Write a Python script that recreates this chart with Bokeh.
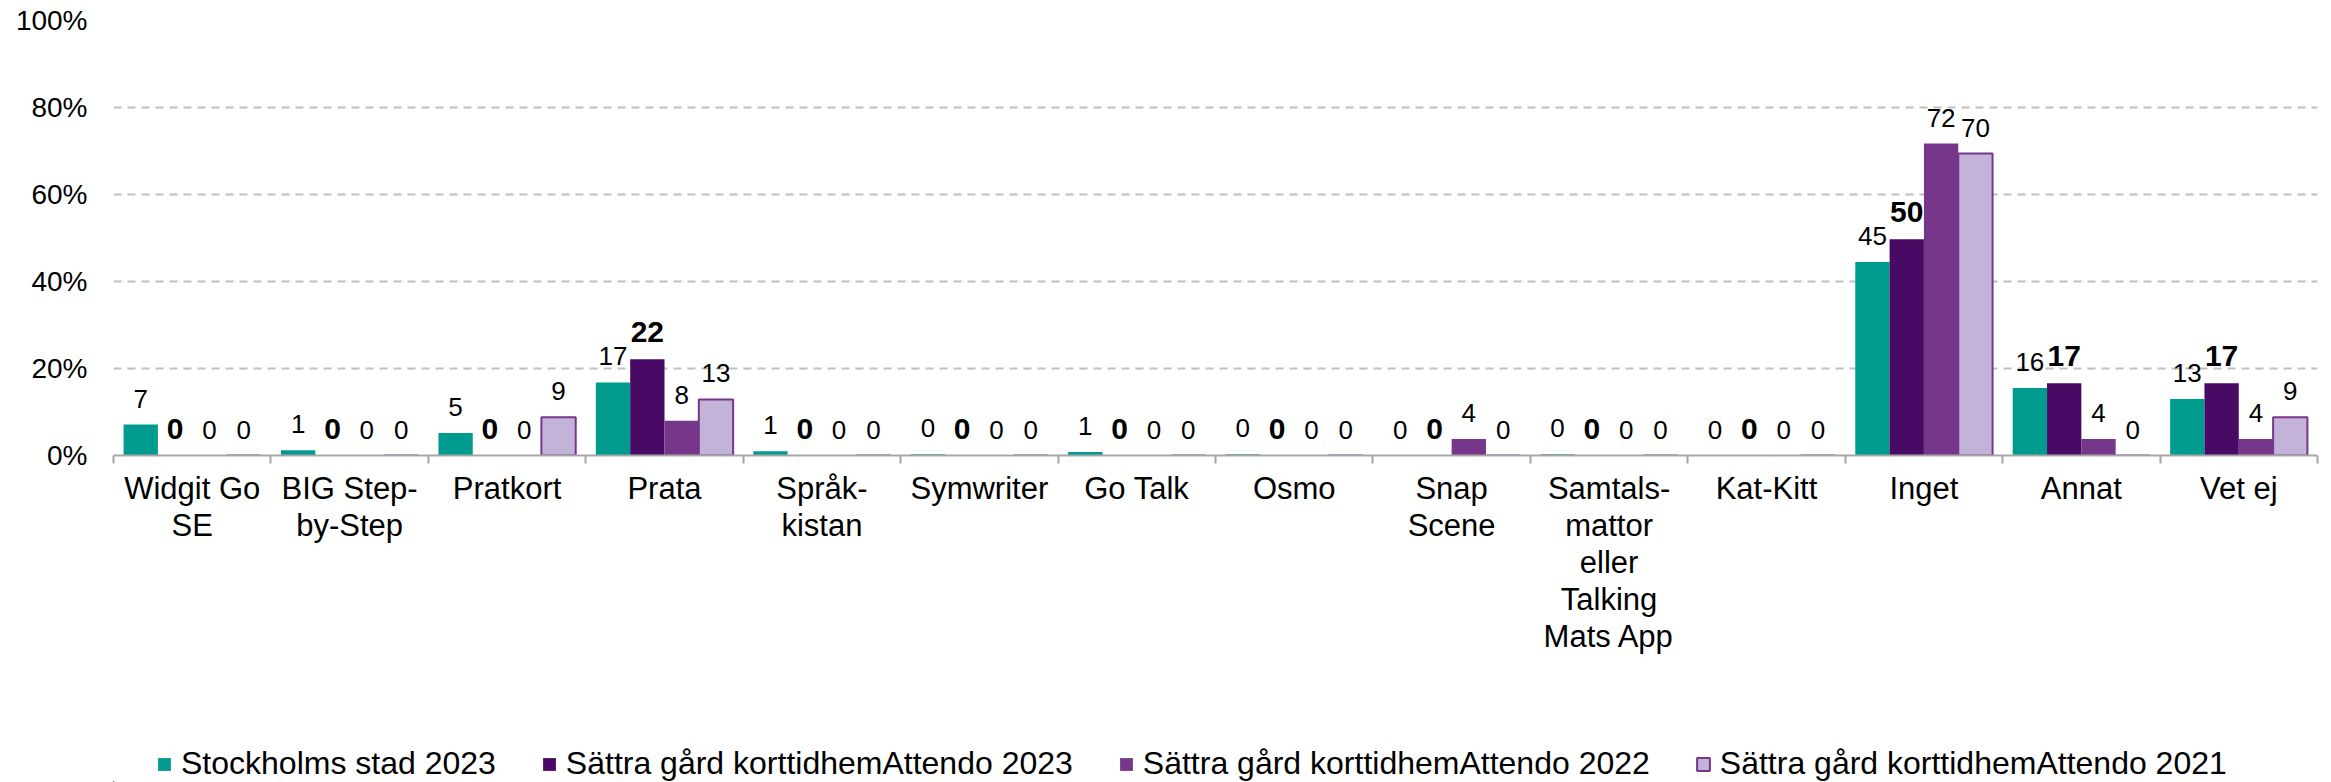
from bokeh.plotting import figure
from bokeh.models import (ColumnDataSource, LabelSet, Legend, LegendItem, FixedTicker,
                          NumeralTickFormatter, Range1d)
from bokeh.layouts import column
from bokeh.core.properties import value
from bokeh.embed import file_html
from bokeh.resources import INLINE
import numpy as np

categories = ["Widgit Go\nSE", "BIG Step-\nby-Step", "Pratkort", "Prata", "Språk-\nkistan",
              "Symwriter", "Go Talk", "Osmo", "Snap\nScene",
              "Samtals-\nmattor\neller\nTalking\nMats App", "Kat-Kitt", "Inget", "Annat", "Vet ej"]

series_names = ["Stockholms stad 2023", "Sättra gård korttidhemAttendo 2023",
                "Sättra gård korttidhemAttendo 2022", "Sättra gård korttidhemAttendo 2021"]

# bar heights (percent)
stockholm_2023 = [7.1, 1.2, 5.2, 16.8, 1.0, 0.3, 0.8, 0.3, 0.0, 0.3, 0.0, 44.5, 15.5, 13.0]
sattra_2023 = [0, 0, 0, 22.1, 0, 0, 0, 0, 0, 0, 0, 49.7, 16.6, 16.6]
sattra_2022 = [0, 0, 0, 8.0, 0, 0, 0, 0, 3.8, 0, 0, 71.7, 3.8, 3.8]
sattra_2021 = [0, 0, 8.8, 12.9, 0, 0, 0, 0, 0, 0, 0, 69.4, 0, 8.8]

# data labels as printed
stockholm_2023_lbl = [7, 1, 5, 17, 1, 0, 1, 0, 0, 0, 0, 45, 16, 13]
sattra_2023_lbl = [0, 0, 0, 22, 0, 0, 0, 0, 0, 0, 0, 50, 17, 17]
sattra_2022_lbl = [0, 0, 0, 8, 0, 0, 0, 0, 4, 0, 0, 72, 4, 4]
sattra_2021_lbl = [0, 0, 9, 13, 0, 0, 0, 0, 0, 0, 0, 70, 0, 9]

y_ticks = [0, 0.2, 0.4, 0.6, 0.8, 1.0]

colors = ["#009B8F", "#480A64", "#76368A", "#C3B3D8"]
outline = [None, None, None, "#76368A"]
FONT = "Liberation Sans"

n = len(categories)
idx = np.arange(n)

p = figure(width=2331, height=730, output_backend="svg", toolbar_location=None,
           x_range=Range1d(0, n), y_range=Range1d(0, 1),
           min_border_left=113, min_border_right=14, min_border_top=20, min_border_bottom=275)
p.outline_line_color = None
p.background_fill_color = "white"
p.border_fill_color = "white"

all_vals = [stockholm_2023, sattra_2023, sattra_2022, sattra_2021]
all_lbls = [stockholm_2023_lbl, sattra_2023_lbl, sattra_2022_lbl, sattra_2021_lbl]

w = 0.218
offsets = [-1.5 * w, -0.5 * w, 0.5 * w, 1.5 * w]


def bar_style(k):
    if outline[k]:
        return dict(fill_color=colors[k], line_color=outline[k], line_width=2)
    return dict(fill_color=colors[k], line_color=None)


for k in range(4):
    src = ColumnDataSource(dict(
        x=idx + 0.5 + offsets[k],
        top=np.array(all_vals[k]) / 100.0,
        lbl=[str(v) for v in all_lbls[k]],
    ))
    p.vbar(x="x", top="top", bottom=0, width=w, source=src, **bar_style(k))
    bold = (k == 1)
    labels = LabelSet(x="x", y="top", text="lbl", source=src,
                      text_align="center", text_baseline="alphabetic", y_offset=17,
                      text_font=value(FONT),
                      text_font_size="30px" if bold else "26px",
                      text_font_style="bold" if bold else "normal",
                      text_color="black")
    p.add_layout(labels)

# x axis
xa = p.xaxis[0]
xa.ticker = FixedTicker(ticks=[float(i) + 0.5 for i in idx], minor_ticks=[float(i) for i in range(n + 1)])
xa.major_label_overrides = {float(i) + 0.5: c for i, c in enumerate(categories)}
xa.major_tick_line_color = None
xa.major_tick_out = 0
xa.major_tick_in = 0
xa.minor_tick_out = 8
xa.minor_tick_in = 0
xa.minor_tick_line_color = "#A6A6A6"
xa.minor_tick_line_width = 2
xa.axis_line_color = "#A6A6A6"
xa.axis_line_width = 2
xa.major_label_text_font = FONT
xa.major_label_text_font_size = "31px"
xa.major_label_text_line_height = 1.06
xa.major_label_text_color = "black"
xa.major_label_standoff = 7

# y axis
ya = p.yaxis[0]
ya.ticker = FixedTicker(ticks=y_ticks)
ya.formatter = NumeralTickFormatter(format="0%")
ya.axis_line_color = None
ya.major_tick_line_color = None
ya.minor_tick_line_color = None
ya.major_tick_out = 0
ya.major_tick_in = 0
ya.major_label_standoff = 26
ya.major_label_text_font = FONT
ya.major_label_text_font_size = "28px"
ya.major_label_text_color = "black"

p.xgrid.visible = False
p.ygrid.grid_line_color = "#BFBFBF"
p.ygrid.grid_line_dash = "8 6"
p.ygrid.grid_line_width = 2

# legend strip below the chart (swatch renderers sit outside the visible range)
pl = figure(width=2331, height=52, output_backend="svg", toolbar_location=None,
            x_range=Range1d(0, 2331), y_range=Range1d(0, 52),
            x_axis_type=None, y_axis_type=None, min_border=0)
pl.outline_line_color = None
pl.background_fill_color = "white"
pl.border_fill_color = "white"
leg_renderers = [pl.vbar(x=[-1000], top=[1], bottom=0, width=1, **bar_style(k)) for k in range(4)]

legend = Legend(items=[LegendItem(label=series_names[k], renderers=[leg_renderers[k]]) for k in range(4)],
                orientation="horizontal", location=(43, 0),
                glyph_width=16, glyph_height=16, label_standoff=9, spacing=45,
                padding=0, margin=0, border_line_color=None, background_fill_alpha=0,
                label_text_font=FONT, label_text_font_size="32px", label_text_color="black")
pl.add_layout(legend)

layout = column(p, pl, spacing=0)
open("out.html", "w").write(file_html(layout, INLINE))
